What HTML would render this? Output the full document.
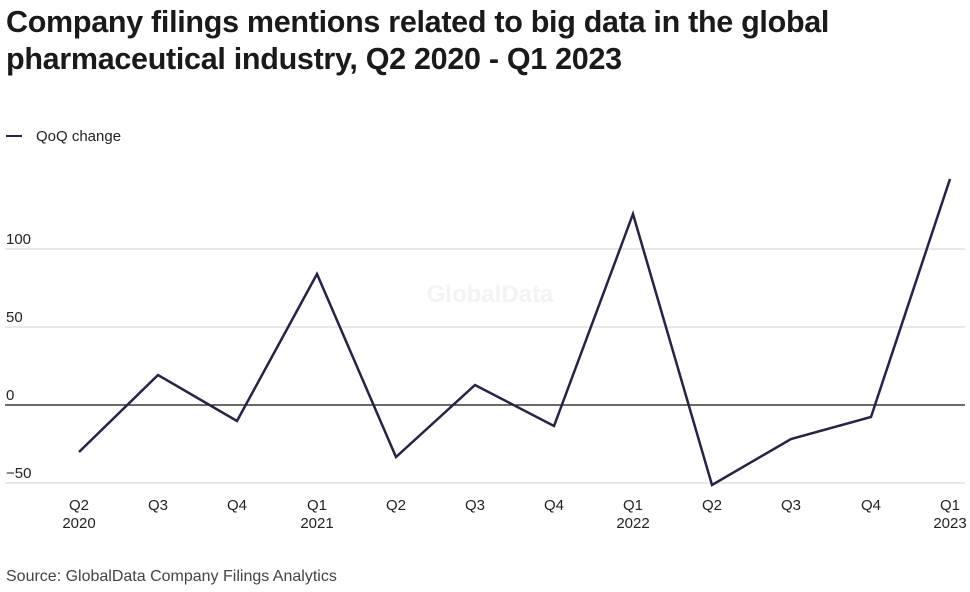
<!DOCTYPE html>
<html><head><meta charset="utf-8"><style>
body{margin:0;background:#fff;width:970px;height:592px;overflow:hidden;font-family:"Liberation Sans",sans-serif;}
h1{position:absolute;left:6px;top:4px;margin:0;font-size:30.5px;line-height:37px;font-weight:bold;color:#1a1a1a;letter-spacing:-0.3px;}
</style></head><body>
<h1>Company filings mentions related to big data in the global<br>pharmaceutical industry, Q2 2020 - Q1 2023</h1>
<svg width="970" height="592" style="position:absolute;left:0;top:0" font-family="Liberation Sans, sans-serif">
<line x1="6" y1="136" x2="22" y2="136" stroke="#272344" stroke-width="2"/>
<text x="36" y="141" font-size="15" fill="#222">QoQ change</text>
<text x="490" y="302" font-size="24" font-weight="bold" fill="#f3f3f3" text-anchor="middle">GlobalData</text>
<g stroke="#d9d9d9" stroke-width="1.3">
<line x1="5" y1="249" x2="965" y2="249"/>
<line x1="5" y1="327" x2="965" y2="327"/>
<line x1="5" y1="483" x2="965" y2="483"/>
</g>
<line x1="5" y1="405" x2="965" y2="405" stroke="#111" stroke-width="1.2"/>
<g font-size="15" fill="#222">
<text x="6" y="244">100</text>
<text x="6" y="322">50</text>
<text x="6" y="400">0</text>
<text x="6" y="478">−50</text>
</g>
<g font-size="15" fill="#222" text-anchor="middle">
<text x="79" y="510">Q2</text><text x="79" y="528">2020</text>
<text x="158" y="510">Q3</text>
<text x="237" y="510">Q4</text>
<text x="317" y="510">Q1</text><text x="317" y="528">2021</text>
<text x="396" y="510">Q2</text>
<text x="475" y="510">Q3</text>
<text x="554" y="510">Q4</text>
<text x="633" y="510">Q1</text><text x="633" y="528">2022</text>
<text x="712" y="510">Q2</text>
<text x="791" y="510">Q3</text>
<text x="871" y="510">Q4</text>
<text x="950" y="510">Q1</text><text x="950" y="528">2023</text>
</g>
<polyline fill="none" stroke="#272344" stroke-width="2.5" stroke-linejoin="miter" points="79,452 158,375 237,421 317,274 396,457 475,385 554,426 633,214 712,485 791,439 871,417 950,179"/>
<text x="6" y="581" font-size="16" fill="#444">Source: GlobalData Company Filings Analytics</text>
</svg>
</body></html>
